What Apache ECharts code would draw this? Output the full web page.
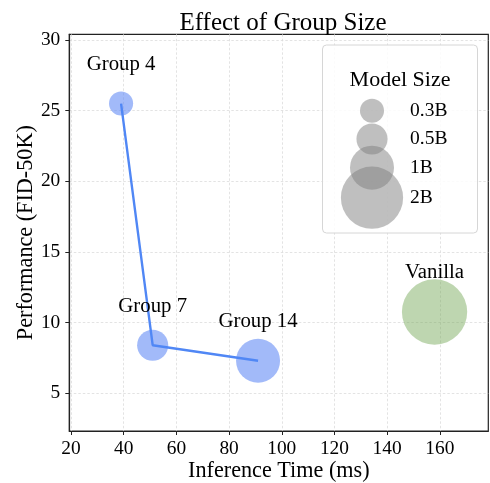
<!DOCTYPE html>
<html>
<head>
<meta charset="utf-8">
<script src="https://cdn.jsdelivr.net/npm/echarts@6/dist/echarts.min.js"></script>
<style>
html,body{margin:0;padding:0;background:#fff;}
#chart{width:490px;height:483px;}
</style>
</head>
<body>
<div id="chart"></div>
<script>
// ---- data ----
const groupNames = ['Group 4', 'Group 7', 'Group 14'];
const groupTime = [39, 51, 91];
const groupFID = [25.5, 8.4, 7.3];
const groupSizeB = [0.3, 0.5, 1.0];

const vanillaName = ['Vanilla'];
const vanillaTime = [158];
const vanillaFID = [10.75];
const vanillaSizeB = [2.2];

const legendLabels = ['0.3B', '0.5B', '1B', '2B'];
const legendSizeB = [0.3, 0.5, 1, 2];

const xTicks = [20, 40, 60, 80, 100, 120, 140, 160];
const yTicks = [5, 10, 15, 20, 25, 30];

// ---- style ----
const FONT = '"Liberation Serif", "DejaVu Serif", serif';
const diam = s => 44 * Math.sqrt(s);

const chart = echarts.init(document.getElementById('chart'), null, {renderer: 'canvas'});

const groupData = groupNames.map((n, i) => ({name: n, value: [groupTime[i], groupFID[i], groupSizeB[i]]}));
const vanillaData = vanillaName.map((n, i) => ({name: n, value: [vanillaTime[i], vanillaFID[i], vanillaSizeB[i]]}));
const allLabelData = groupData.concat(vanillaData);

const legendTop = 110.7, legendStep = [0, 28.3, 57, 87];
const legendGraphics = [
  {type: 'rect', shape: {x: 322.5, y: 45, width: 155, height: 188, r: 4},
   style: {fill: 'rgba(255,255,255,0.85)', stroke: '#d6d6d6', lineWidth: 1}, z: 100},
  {type: 'text', x: 400, y: 80, z: 101,
   style: {text: 'Model Size', font: '22px ' + FONT, fill: '#000', align: 'center', verticalAlign: 'middle'}}
];
legendLabels.forEach((lab, i) => {
  legendGraphics.push({type: 'circle', z: 101, shape: {cx: 372, cy: legendTop + legendStep[i], r: diam(legendSizeB[i]) / 2},
    style: {fill: 'rgba(128,128,128,0.5)'}});
  legendGraphics.push({type: 'text', z: 102, x: 410, y: legendTop + legendStep[i],
    style: {text: lab, font: '19.5px ' + FONT, fill: '#000', align: 'left', verticalAlign: 'middle'}});
});

const option = {
  animation: false,
  backgroundColor: '#fff',
  title: {
    text: 'Effect of Group Size', left: 278, top: 6, textAlign: 'center',
    textStyle: {fontFamily: FONT, fontSize: 25, fontWeight: 'normal', color: '#000'}
  },
  grid: {left: 69.3, right: 1.7, top: 34.3, bottom: 52, show: true, borderColor: '#222', borderWidth: 1.2,
    containLabel: false, outerBoundsMode: 'none'},
  xAxis: {
    type: 'value', min: 19.35, max: 178.4,
    name: 'Inference Time (ms)', nameLocation: 'middle', nameGap: 29, nameMoveOverlap: false,
    nameTextStyle: {fontFamily: FONT, fontSize: 22.2, color: '#000'},
    axisLine: {show: true, onZero: false, lineStyle: {color: '#222', width: 1.2}},
    axisTick: {show: true, inside: false, length: 4, lineStyle: {color: '#222', width: 1}, customValues: xTicks},
    axisLabel: {fontFamily: FONT, fontSize: 19.4, color: '#000', margin: 8, customValues: xTicks},
    splitLine: {show: true, lineStyle: {color: '#dcdcdc', type: [2.5, 2], width: 0.8}}
  },
  yAxis: {
    type: 'value', min: 2.33, max: 30.4,
    name: 'Performance (FID-50K)', nameLocation: 'middle', nameGap: 32, nameMoveOverlap: false,
    nameTextStyle: {fontFamily: FONT, fontSize: 22.2, color: '#000'},
    axisLine: {show: true, onZero: false, lineStyle: {color: '#222', width: 1.2}},
    axisTick: {show: true, inside: false, length: 4, lineStyle: {color: '#222', width: 1}, customValues: yTicks},
    axisLabel: {fontFamily: FONT, fontSize: 19.4, color: '#000', margin: 9, customValues: yTicks},
    splitLine: {show: true, lineStyle: {color: '#dcdcdc', type: [2.5, 2], width: 0.8}}
  },
  series: [
    {
      type: 'scatter', data: groupData, z: 2,
      symbolSize: v => diam(v[2]),
      itemStyle: {color: 'rgba(100,140,245,0.75)'},
      emphasis: {disabled: true}
    },
    {
      type: 'line', data: groupData.map(d => d.value.slice(0, 2)), z: 3,
      symbol: 'none', lineStyle: {color: '#5087f5', width: 2.4}
    },
    {
      type: 'scatter', data: vanillaData, z: 2,
      symbolSize: v => diam(v[2]),
      itemStyle: {color: 'rgba(120,170,90,0.6)'},
      emphasis: {disabled: true}
    },
    {
      type: 'scatter', data: allLabelData, z: 5,
      symbolSize: 1, itemStyle: {color: 'rgba(0,0,0,0)'},
      label: {show: true, position: 'inside', offset: [0, -39], formatter: p => p.name,
        fontFamily: FONT, fontSize: 20.8, color: '#000', opacity: 1},
      emphasis: {disabled: true}, silent: true
    }
  ],
  graphic: legendGraphics
};
chart.setOption(option);
</script>
</body>
</html>
